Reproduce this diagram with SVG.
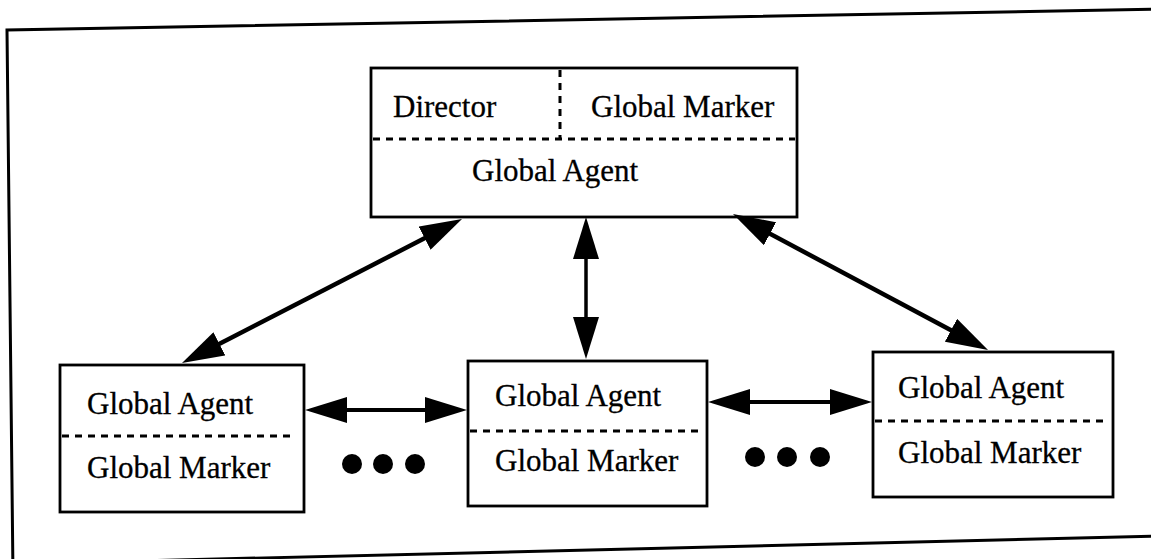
<svg xmlns="http://www.w3.org/2000/svg" width="1151" height="559" viewBox="0 0 1151 559">
  <defs>
    <style>
      .box { fill: #ffffff; stroke: #000000; stroke-width: 2.8; }
      .div { fill: none; stroke: #000000; stroke-width: 3; stroke-dasharray: 7 6; }
      .lbl { font-family: "Liberation Serif", "Times New Roman", serif; font-size: 31px; fill: #000000; stroke: #000000; stroke-width: 0.3; }
      .link { fill: none; stroke: #000000; stroke-width: 4.5; marker-start: url(#head); marker-end: url(#head); }
      .dot { fill: #000000; }
    </style>
    <marker id="head" viewBox="0 0 42 26" markerWidth="42" markerHeight="26" refX="32" refY="13" orient="auto-start-reverse" markerUnits="userSpaceOnUse">
      <path d="M0,0 L42,13 L0,26 z" fill="#000000"/>
    </marker>
  </defs>

  <rect width="1151" height="559" fill="#ffffff"/>

  <!-- outer frame (slightly skewed page border) -->
  <path d="M13,575 L7,30 L1165,9" fill="none" stroke="#000000" stroke-width="3"/>
  <path d="M13,564 L1165,536" fill="none" stroke="#000000" stroke-width="3"/>

  <!-- top node: director / global marker / global agent -->
  <g id="director-node">
    <rect class="box" x="371" y="68" width="426" height="149"/>
    <line class="div" x1="560" y1="70" x2="560" y2="139"/>
    <line class="div" x1="373" y1="139" x2="795" y2="139"/>
    <text class="lbl" x="393" y="117">Director</text>
    <text class="lbl" x="591" y="117">Global Marker</text>
    <text class="lbl" x="472" y="181">Global Agent</text>
  </g>

  <!-- lower nodes -->
  <g id="node-left">
    <rect class="box" x="60" y="365" width="244" height="147"/>
    <line class="div" x1="62" y1="436" x2="296" y2="436"/>
    <text class="lbl" x="87" y="414">Global Agent</text>
    <text class="lbl" x="87" y="478">Global Marker</text>
  </g>

  <g id="node-middle">
    <rect class="box" x="468" y="361" width="239" height="145"/>
    <line class="div" x1="470" y1="431" x2="700" y2="431"/>
    <text class="lbl" x="495" y="406">Global Agent</text>
    <text class="lbl" x="495" y="471">Global Marker</text>
  </g>

  <g id="node-right">
    <rect class="box" x="873" y="352" width="240" height="145"/>
    <line class="div" x1="875" y1="421" x2="1105" y2="421"/>
    <text class="lbl" x="898" y="398">Global Agent</text>
    <text class="lbl" x="898" y="463">Global Marker</text>
  </g>

  <!-- ellipsis dots between lower nodes -->
  <g id="ellipsis-1">
    <circle class="dot" cx="352" cy="464" r="10"/>
    <circle class="dot" cx="383" cy="464" r="10"/>
    <circle class="dot" cx="415" cy="464" r="10"/>
  </g>
  <g id="ellipsis-2">
    <circle class="dot" cx="755" cy="457" r="10"/>
    <circle class="dot" cx="787" cy="457" r="10"/>
    <circle class="dot" cx="820" cy="457" r="10"/>
  </g>

  <!-- bidirectional connectors -->
  <g id="connectors">
    <line class="link" x1="190.9" y1="358.4" x2="453.1" y2="223.6"/>
    <line class="link" x1="741.8" y1="218.7" x2="979.2" y2="345.3"/>
    <line class="link" x1="586" y1="227" x2="586" y2="349" style="stroke-width:3.5"/>
    <line class="link" x1="315" y1="410" x2="457" y2="410" style="stroke-width:4"/>
    <line class="link" x1="718" y1="402" x2="862" y2="402" style="stroke-width:4"/>
  </g>
</svg>
